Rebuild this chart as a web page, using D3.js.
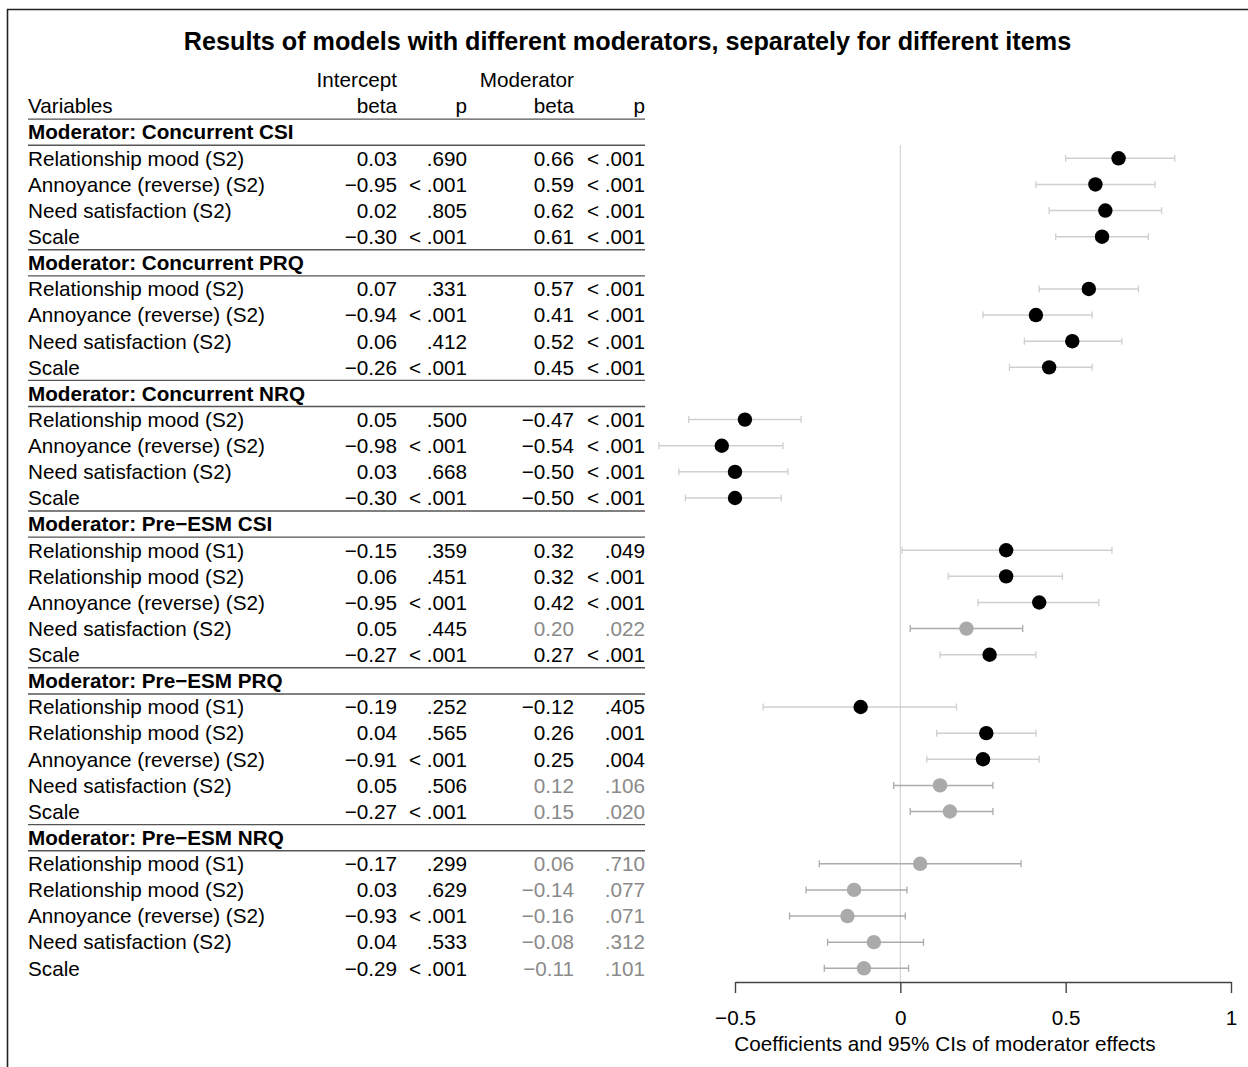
<!DOCTYPE html>
<html>
<head>
<meta charset="utf-8">
<script src="https://cdn.jsdelivr.net/npm/d3@7"></script>
<style>
  html, body { margin: 0; padding: 0; background: #fff; }
  svg { display: block; font-family: "Liberation Sans", Arial, sans-serif; }
</style>
</head>
<body>
<svg id="chart" width="1248" height="1067"></svg>
<script>
// ---------------- DATA ----------------
const title = "Results of models with different moderators, separately for different items";
const groups = [
  "Moderator: Concurrent CSI",
  "Moderator: Concurrent PRQ",
  "Moderator: Concurrent NRQ",
  "Moderator: Pre\u2212ESM CSI",
  "Moderator: Pre\u2212ESM PRQ",
  "Moderator: Pre\u2212ESM NRQ"
];
const rowGroup = [0,0,0,0, 1,1,1,1, 2,2,2,2, 3,3,3,3,3, 4,4,4,4,4, 5,5,5,5,5];
const rowLabels = [
  "Relationship mood (S2)","Annoyance (reverse) (S2)","Need satisfaction (S2)","Scale",
  "Relationship mood (S2)","Annoyance (reverse) (S2)","Need satisfaction (S2)","Scale",
  "Relationship mood (S2)","Annoyance (reverse) (S2)","Need satisfaction (S2)","Scale",
  "Relationship mood (S1)","Relationship mood (S2)","Annoyance (reverse) (S2)","Need satisfaction (S2)","Scale",
  "Relationship mood (S1)","Relationship mood (S2)","Annoyance (reverse) (S2)","Need satisfaction (S2)","Scale",
  "Relationship mood (S1)","Relationship mood (S2)","Annoyance (reverse) (S2)","Need satisfaction (S2)","Scale"
];
const interceptBeta = [0.03,-0.95,0.02,-0.30, 0.07,-0.94,0.06,-0.26, 0.05,-0.98,0.03,-0.30,
  -0.15,0.06,-0.95,0.05,-0.27, -0.19,0.04,-0.91,0.05,-0.27, -0.17,0.03,-0.93,0.04,-0.29];
const interceptP = [".690","< .001",".805","< .001", ".331","< .001",".412","< .001",
  ".500","< .001",".668","< .001", ".359",".451","< .001",".445","< .001",
  ".252",".565","< .001",".506","< .001", ".299",".629","< .001",".533","< .001"];
const moderatorBeta = [0.66,0.59,0.62,0.61, 0.57,0.41,0.52,0.45, -0.47,-0.54,-0.50,-0.50,
  0.32,0.32,0.42,0.20,0.27, -0.12,0.26,0.25,0.12,0.15, 0.06,-0.14,-0.16,-0.08,-0.11];
const moderatorP = ["< .001","< .001","< .001","< .001", "< .001","< .001","< .001","< .001",
  "< .001","< .001","< .001","< .001", ".049","< .001","< .001",".022","< .001",
  ".405",".001",".004",".106",".020", ".710",".077",".071",".312",".101"];
const ciLow = [0.50,0.41,0.45,0.47, 0.42,0.25,0.375,0.33, -0.64,-0.73,-0.67,-0.65,
  0.005,0.145,0.235,0.03,0.12, -0.415,0.11,0.08,-0.02,0.03, -0.245,-0.285,-0.335,-0.22,-0.23];
const ciHigh = [0.83,0.77,0.79,0.75, 0.72,0.58,0.67,0.58, -0.30,-0.355,-0.34,-0.36,
  0.64,0.49,0.60,0.37,0.41, 0.17,0.41,0.42,0.28,0.28, 0.365,0.02,0.015,0.07,0.025];
const significant = [1,1,1,1, 1,1,1,1, 1,1,1,1, 1,1,1,0,1, 1,1,1,0,0, 0,0,0,0,0];
const axisTicks = [-0.5, 0, 0.5, 1];
const axisTitle = "Coefficients and 95% CIs of moderator effects";

// ---------------- LAYOUT ----------------
const svg = d3.select("#chart");
const FS = 20.7;
const BO = 7.3; // baseline offset from row centre
const gap = 26.13;
const yRow = d3.scaleLinear().domain([0, 31]).range([158.3, 968.3]);
const x = d3.scaleLinear().domain([-0.5, 1]).range([735, 1231]);
const axisY = 982;
const fmt = d3.format(".2f");

const colVar = 28, colIB = 397, colIP = 467, colMB = 574, colMP = 645;
const grayText = "#8a8a8a";

// frame
svg.append("path").attr("d", "M7.5,1067 L7.5,9.5 L1248,9.5")
  .attr("fill", "none").attr("stroke", "#222").attr("stroke-width", 1.6);

// title
svg.append("text").attr("x", 627.5).attr("y", 50).attr("text-anchor", "middle")
  .attr("font-weight", "bold").attr("font-size", 25.2).text(title);

// build row layout
const rows = [];
const headers = [];
let k = -1;
groups.forEach((g, gi) => {
  headers.push({ label: g, k: k });
  k++;
  rowGroup.forEach((rg, i) => {
    if (rg === gi) { rows.push({ i: i, k: k }); k++; }
  });
});

const table = svg.append("g").attr("font-size", FS);
const hdr = [
  { t: "Intercept", x: colIB, k: -3 },
  { t: "Moderator", x: colMB, k: -3 },
  { t: "beta", x: colIB, k: -2 },
  { t: "p", x: colIP, k: -2 },
  { t: "beta", x: colMB, k: -2 },
  { t: "p", x: colMP, k: -2 }
];
table.selectAll("text.hdr").data(hdr).join("text").attr("class", "hdr")
  .attr("x", d => d.x).attr("y", d => yRow(d.k) + BO).attr("text-anchor", "end").text(d => d.t);
table.append("text").attr("x", colVar).attr("y", yRow(-2) + BO).text("Variables");

headers.forEach(h => {
  table.append("text").attr("x", colVar).attr("y", yRow(h.k) + BO)
    .attr("font-weight", "bold").text(h.label);
  [yRow(h.k) - gap / 2, yRow(h.k) + gap / 2].forEach(yy => {
    table.append("line").attr("x1", colVar).attr("x2", colMP)
      .attr("y1", yy).attr("y2", yy).attr("stroke", "#555").attr("stroke-width", 1.4);
  });
});

rows.forEach(r => {
  const i = r.i, yb = yRow(r.k) + BO;
  const c = significant[i] ? "#000" : grayText;
  table.append("text").attr("x", colVar).attr("y", yb).text(rowLabels[i]);
  table.append("text").attr("x", colIB).attr("y", yb).attr("text-anchor", "end").text(fmt(interceptBeta[i]));
  table.append("text").attr("x", colIP).attr("y", yb).attr("text-anchor", "end").text(interceptP[i]);
  table.append("text").attr("x", colMB).attr("y", yb).attr("text-anchor", "end").attr("fill", c).text(fmt(moderatorBeta[i]));
  table.append("text").attr("x", colMP).attr("y", yb).attr("text-anchor", "end").attr("fill", c).text(moderatorP[i]);
});

// zero reference line
svg.append("line").attr("x1", x(0)).attr("x2", x(0))
  .attr("y1", yRow(-1) + gap / 2).attr("y2", axisY)
  .attr("stroke", "#d6d6d6").attr("stroke-width", 1.2);

// CIs and points
const plot = svg.append("g");
rows.forEach(r => {
  const i = r.i, yy = yRow(r.k);
  const ciCol = significant[i] ? "#cfcfcf" : "#ababab";
  plot.append("line").attr("x1", x(ciLow[i])).attr("x2", x(ciHigh[i]))
    .attr("y1", yy).attr("y2", yy).attr("stroke", ciCol).attr("stroke-width", 1.5);
  [ciLow[i], ciHigh[i]].forEach(v => {
    plot.append("line").attr("x1", x(v)).attr("x2", x(v))
      .attr("y1", yy - 3.5).attr("y2", yy + 3.5).attr("stroke", ciCol).attr("stroke-width", 1.3);
  });
  plot.append("circle").attr("cx", x(moderatorBeta[i])).attr("cy", yy).attr("r", 7.2)
    .attr("fill", significant[i] ? "#000" : "#aaaaaa");
});

// axis
const axis = d3.axisBottom(x).tickValues(axisTicks).tickSizeInner(11).tickSizeOuter(0).tickPadding(17)
  .tickFormat(d => d === 0 ? "0" : d === 1 ? "1" : d3.format(".1f")(d));
const ag = svg.append("g").attr("transform", `translate(0,${axisY})`).call(axis);
ag.select(".domain").attr("stroke", "#444").attr("stroke-width", 1.4);
ag.selectAll(".tick line").attr("stroke", "#444").attr("stroke-width", 1.4);
ag.selectAll(".tick text").attr("font-size", FS).attr("fill", "#000")
  .attr("font-family", "Liberation Sans, Arial, sans-serif");

svg.append("text").attr("x", 945).attr("y", 1051).attr("text-anchor", "middle")
  .attr("font-size", FS).text(axisTitle);
</script>
</body>
</html>
